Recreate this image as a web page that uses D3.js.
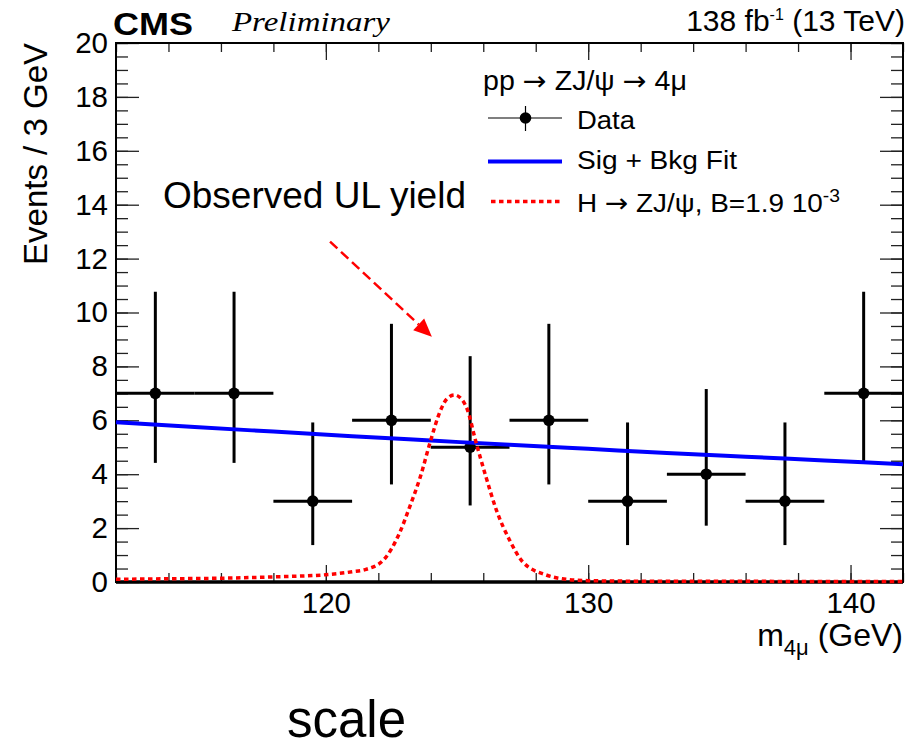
<!DOCTYPE html>
<html>
<head>
<meta charset="utf-8">
<script src="https://cdn.jsdelivr.net/npm/d3@7"></script>
<style>
  html, body { margin: 0; padding: 0; background: #fff; }
  svg { display: block; }
</style>
</head>
<body>
<svg id="chart" width="922" height="750" font-family="Liberation Sans, Arial, Helvetica, sans-serif"></svg>
<script>
// Binned four-muon invariant mass spectrum, 3 GeV bins
const binCenters = [113.5, 116.5, 119.5, 122.5, 125.5, 128.5, 131.5, 134.5, 137.5, 140.5];
const binWidth = 3;
const counts   = [7, 7, 3, 6, 5, 6, 3, 4, 3, 7];
// Poisson (Garwood) 68% interval bounds
const errLow   = [4.42, 4.42, 1.37, 3.62, 2.84, 3.62, 1.37, 2.09, 1.37, 4.42];
const errHigh  = [10.77, 10.77, 5.92, 9.58, 8.38, 9.58, 5.92, 7.16, 5.92, 10.77];

// Signal + background fit curve
const fitMass  = [112, 115, 118, 121, 124, 127, 130, 133, 136, 139, 142];
const fitYield = [5.93, 5.75, 5.58, 5.41, 5.25, 5.09, 4.94, 4.79, 4.65, 4.51, 4.37];

// H -> ZJ/psi signal shape at the observed upper limit
const sigMass  = [112, 114, 116, 118, 120, 121, 121.5, 122.2, 122.8, 123.2, 123.6, 124.0, 124.35, 124.6, 124.9, 125.2, 125.4, 125.7, 126.1, 126.5, 127.0, 127.5, 128.4, 129, 130, 132, 142];
const sigYield = [0.10, 0.12, 0.14, 0.19, 0.27, 0.38, 0.46, 0.82, 1.80, 2.80, 3.90, 5.27, 6.32, 6.78, 6.94, 6.75, 6.38, 5.27, 3.91, 2.67, 1.56, 0.75, 0.26, 0.12, 0.05, 0.03, 0.02];

// Axis ticks
const xMajorTicks = [120, 130, 140];
const xMinorTicks = d3.range(112, 143, 2);
const yMajorTicks = d3.range(0, 21, 2);
const yMinorTicks = d3.range(0, 20.01, 0.5);

// Annotation arrow (data coordinates)
const arrowFrom = [120.16, 12.63];
const arrowTo   = [124.04, 9.10];

const svg = d3.select("#chart");
const L = 116, R = 903, T = 43, B = 582;
const SANS = "Liberation Sans, Arial, Helvetica, sans-serif";
const ARROW_FONT = "DejaVu Sans, sans-serif";

const x = d3.scaleLinear().domain([112, 142]).range([L, R]);
const y = d3.scaleLinear().domain([0, 20]).range([B, T]);

// ---- tick marks (inside, mirrored on all sides) ----
function styleAxis(g) {
  g.select(".domain").remove();
  g.selectAll(".tick line").attr("stroke", "#222").attr("stroke-width", 1.3);
  g.selectAll(".tick text").attr("font-size", 29.5).attr("font-family", SANS).attr("fill", "#000");
}

svg.append("g").attr("transform", `translate(0,${B})`)
  .call(d3.axisBottom(x).tickValues(xMinorTicks).tickSize(-9).tickFormat(""))
  .call(styleAxis);
svg.append("g").attr("transform", `translate(0,${B})`)
  .call(d3.axisBottom(x).tickValues(xMajorTicks).tickSize(-17).tickPadding(10).tickFormat(d3.format("d")))
  .call(styleAxis);

svg.append("g").attr("transform", `translate(0,${T})`)
  .call(d3.axisTop(x).tickValues(xMinorTicks).tickSize(-9).tickFormat(""))
  .call(styleAxis);
svg.append("g").attr("transform", `translate(0,${T})`)
  .call(d3.axisTop(x).tickValues(xMajorTicks).tickSize(-17).tickFormat(""))
  .call(styleAxis);

svg.append("g").attr("transform", `translate(${L},0)`)
  .call(d3.axisLeft(y).tickValues(yMinorTicks).tickSize(-12).tickFormat(""))
  .call(styleAxis);
svg.append("g").attr("transform", `translate(${L},0)`)
  .call(d3.axisLeft(y).tickValues(yMajorTicks).tickSize(-23).tickPadding(8).tickFormat(d3.format("d")))
  .call(styleAxis);

svg.append("g").attr("transform", `translate(${R},0)`)
  .call(d3.axisRight(y).tickValues(yMinorTicks).tickSize(-12).tickFormat(""))
  .call(styleAxis);
svg.append("g").attr("transform", `translate(${R},0)`)
  .call(d3.axisRight(y).tickValues(yMajorTicks).tickSize(-23).tickFormat(""))
  .call(styleAxis);

// ---- frame ----
svg.append("rect").attr("x", L).attr("y", T).attr("width", R - L).attr("height", B - T)
  .attr("fill", "none").attr("stroke", "#000").attr("stroke-width", 2);
svg.append("line").attr("x1", L).attr("x2", R).attr("y1", B).attr("y2", B)
  .attr("stroke", "#000").attr("stroke-width", 3.5);

// ---- data points with error bars ----
const data = binCenters.map((c, i) => ({ c, n: counts[i], lo: errLow[i], hi: errHigh[i] }));
const pts = svg.append("g").attr("stroke", "#000").attr("stroke-width", 3);
pts.selectAll("line.h").data(data).join("line").attr("class", "h")
  .attr("x1", d => x(d.c - binWidth / 2)).attr("x2", d => x(d.c + binWidth / 2))
  .attr("y1", d => y(d.n)).attr("y2", d => y(d.n));
pts.selectAll("line.v").data(data).join("line").attr("class", "v")
  .attr("x1", d => x(d.c)).attr("x2", d => x(d.c))
  .attr("y1", d => y(d.lo)).attr("y2", d => y(d.hi));
svg.append("g").selectAll("circle").data(data).join("circle")
  .attr("cx", d => x(d.c)).attr("cy", d => y(d.n)).attr("r", 5.8).attr("fill", "#000");

// ---- fit curve ----
svg.append("path")
  .datum(fitMass.map((m, i) => [m, fitYield[i]]))
  .attr("d", d3.line().x(d => x(d[0])).y(d => y(d[1])).curve(d3.curveMonotoneX))
  .attr("fill", "none").attr("stroke", "#0000ff").attr("stroke-width", 4);

// ---- signal shape ----
svg.append("path")
  .datum(sigMass.map((m, i) => [m, sigYield[i]]))
  .attr("d", d3.line().x(d => x(d[0])).y(d => y(d[1])).curve(d3.curveMonotoneX))
  .attr("fill", "none").attr("stroke", "#ff0000").attr("stroke-width", 3.5)
  .attr("stroke-dasharray", "4.5,3.5");

// ---- annotation ----
const ax0 = x(arrowFrom[0]), ay0 = y(arrowFrom[1]);
const ax1 = x(arrowTo[0]), ay1 = y(arrowTo[1]);
const ang = Math.atan2(ay1 - ay0, ax1 - ax0);
const headLen = 18, headHalf = 8;
const bx = ax1 - headLen * Math.cos(ang), by = ay1 - headLen * Math.sin(ang);
svg.append("line")
  .attr("x1", ax0).attr("y1", ay0).attr("x2", bx).attr("y2", by)
  .attr("stroke", "#ff0000").attr("stroke-width", 2.5).attr("stroke-dasharray", "10,5");
svg.append("path")
  .attr("d", `M${ax1},${ay1} L${bx + headHalf * Math.sin(ang)},${by - headHalf * Math.cos(ang)} L${bx - headHalf * Math.sin(ang)},${by + headHalf * Math.cos(ang)} Z`)
  .attr("fill", "#ff0000");

svg.append("text").attr("x", 163).attr("y", 208).attr("font-size", 37).text("Observed UL yield");

// ---- header ----
svg.append("text").attr("x", 113).attr("y", 35).attr("font-size", 31).attr("font-weight", "bold")
  .attr("textLength", 80).attr("lengthAdjust", "spacingAndGlyphs").text("CMS");
svg.append("text").attr("x", 232).attr("y", 31).attr("font-size", 27)
  .attr("font-family", "Liberation Serif, Times New Roman, serif").attr("font-style", "italic")
  .attr("textLength", 158).attr("lengthAdjust", "spacingAndGlyphs").text("Preliminary");

const lumi = svg.append("text").attr("x", 905).attr("y", 31).attr("font-size", 30).attr("text-anchor", "end");
lumi.append("tspan").text("138 fb");
lumi.append("tspan").attr("font-size", 16).attr("dy", -11).text("-1");
lumi.append("tspan").attr("dy", 11).text(" (13 TeV)");

// ---- axis titles ----
svg.append("text").attr("transform", "translate(47,43) rotate(-90)")
  .attr("text-anchor", "end").attr("font-size", 33).text("Events / 3 GeV");

const xt = svg.append("text").attr("x", 903).attr("y", 646).attr("font-size", 32).attr("text-anchor", "end");
xt.append("tspan").text("m");
xt.append("tspan").attr("font-size", 22).attr("dy", 9).text("4μ");
xt.append("tspan").attr("dy", -9).text(" (GeV)");

// ---- legend ----
function arrowText(sel, parts) {
  parts.forEach(p => {
    const t = sel.append("tspan").text(p);
    if (p === "→") t.attr("font-family", ARROW_FONT);
  });
}

const hdr = svg.append("text").attr("x", 483).attr("y", 90).attr("font-size", 27)
  .attr("textLength", 204).attr("lengthAdjust", "spacingAndGlyphs");
arrowText(hdr, ["pp ", "→", " ZJ/ψ ", "→", " 4μ"]);

const lg = svg.append("g");
// Data
lg.append("line").attr("x1", 488).attr("x2", 562).attr("y1", 118).attr("y2", 118).attr("stroke", "#000").attr("stroke-width", 1.2);
lg.append("line").attr("x1", 525.5).attr("x2", 525.5).attr("y1", 106).attr("y2", 131).attr("stroke", "#000").attr("stroke-width", 1.2);
lg.append("circle").attr("cx", 525.5).attr("cy", 118).attr("r", 5.8).attr("fill", "#000");
lg.append("text").attr("x", 577).attr("y", 129).attr("font-size", 26)
  .attr("textLength", 58).attr("lengthAdjust", "spacingAndGlyphs").text("Data");
// Fit
lg.append("line").attr("x1", 488).attr("x2", 562).attr("y1", 161.5).attr("y2", 161.5).attr("stroke", "#0000ff").attr("stroke-width", 4);
lg.append("text").attr("x", 577).attr("y", 169).attr("font-size", 26)
  .attr("textLength", 160).attr("lengthAdjust", "spacingAndGlyphs").text("Sig + Bkg Fit");
// Signal
lg.append("line").attr("x1", 491).attr("x2", 562).attr("y1", 201.5).attr("y2", 201.5).attr("stroke", "#ff0000").attr("stroke-width", 3.5).attr("stroke-dasharray", "4.5,3.5");
const st = lg.append("text").attr("x", 577).attr("y", 212).attr("font-size", 26)
  .attr("textLength", 263).attr("lengthAdjust", "spacingAndGlyphs");
arrowText(st, ["H ", "→", " ZJ/ψ, B=1.9 10"]);
st.append("tspan").attr("font-size", 18).attr("dy", -10).text("-3");

// ---- footer ----
svg.append("text").attr("x", 287).attr("y", 737).attr("font-size", 51).text("scale");
</script>
</body>
</html>
